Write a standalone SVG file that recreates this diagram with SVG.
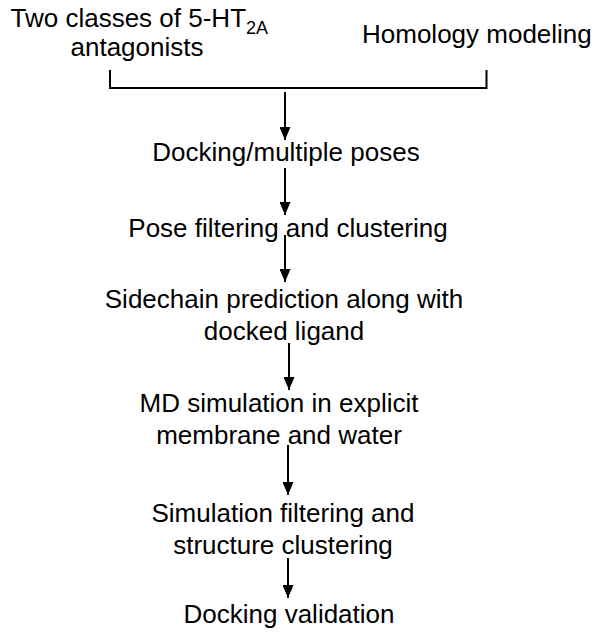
<svg xmlns="http://www.w3.org/2000/svg" width="601" height="637" viewBox="0 0 601 637">
<style>
text{font-family:"Liberation Sans",Arial,sans-serif;font-size:26px;fill:#000}
.c{text-anchor:middle}
.ln{stroke:#000;stroke-width:2;fill:none}
</style>
<defs>
<marker id="ah" markerUnits="userSpaceOnUse" markerWidth="13" markerHeight="11" refX="13" refY="5.5" orient="auto">
<path d="M0,0 L13,5.5 L0,11 z" fill="#000"/>
</marker>
</defs>
<rect width="601" height="637" fill="#fff"/>
<g id="n-antagonists">
<text x="10.5" y="27">Two classes of 5-HT<tspan font-size="18" dy="7">2A</tspan></text>
<text class="c" x="137" y="56">antagonists</text>
</g>
<g id="n-homology"><text x="362" y="43">Homology modeling</text></g>
<g id="n-docking"><text class="c" x="286" y="161">Docking/multiple poses</text></g>
<g id="n-pose"><text class="c" x="288" y="237">Pose filtering and clustering</text></g>
<g id="n-sidechain">
<text class="c" x="284" y="308">Sidechain prediction along with</text>
<text class="c" x="284" y="340">docked ligand</text>
</g>
<g id="n-md">
<text class="c" x="279" y="412">MD simulation in explicit</text>
<text class="c" x="279" y="444">membrane and water</text>
</g>
<g id="n-simfilter">
<text class="c" x="283" y="522">Simulation filtering and</text>
<text class="c" x="283" y="554">structure clustering</text>
</g>
<g id="n-validation"><text class="c" x="289" y="623">Docking validation</text></g>
<g id="connectors">
<path class="ln" d="M110,70 V88 H486.5 V70"/>
<line class="ln" x1="285" y1="92" x2="285" y2="140" marker-end="url(#ah)"/>
<line class="ln" x1="285" y1="168" x2="285" y2="215" marker-end="url(#ah)"/>
<line class="ln" x1="285" y1="235" x2="285" y2="282" marker-end="url(#ah)"/>
<line class="ln" x1="289" y1="343" x2="289" y2="390" marker-end="url(#ah)"/>
<line class="ln" x1="288" y1="445" x2="288" y2="495" marker-end="url(#ah)"/>
<line class="ln" x1="288" y1="558" x2="288" y2="598" marker-end="url(#ah)"/>
</g>
</svg>
